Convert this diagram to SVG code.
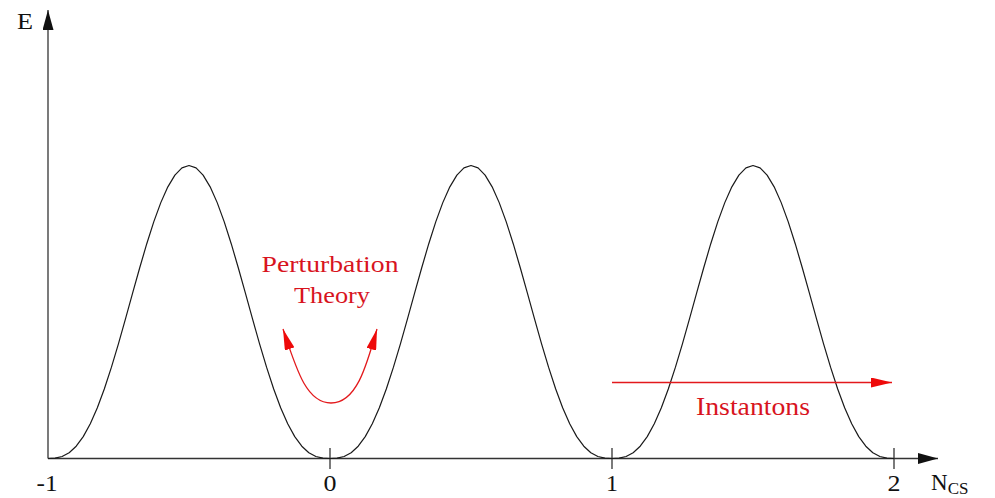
<svg xmlns="http://www.w3.org/2000/svg" xmlns:xlink="http://www.w3.org/1999/xlink" width="995" height="498" viewBox="0 0 995 498">
  <style>
    .axis { stroke: #333; stroke-width: 1.3; fill: none; }
    .curve { stroke: #1a1a1a; stroke-width: 1.2; fill: none; stroke-linejoin: round; }
    .red { stroke: #e3191c; stroke-width: 1.3; fill: none; }
    .lbl { font-family: 'Times New Roman', 'Liberation Serif', Tinos, 'Nimbus Roman', serif; fill: #111; }
    .rlbl { font-family: 'Times New Roman', 'Liberation Serif', Tinos, 'Nimbus Roman', serif; fill: #d8141e; }
  </style>
  <defs>
    <marker id="blackHead" markerUnits="userSpaceOnUse" viewBox="0 0 20 11" refX="20" refY="5.5" markerWidth="20" markerHeight="11" orient="auto">
      <path d="M0,0 L20,5.5 L0,11 z" fill="#111"/>
    </marker>
    <marker id="redHead" markerUnits="userSpaceOnUse" viewBox="0 0 21 10" refX="21" refY="5" markerWidth="21" markerHeight="10" orient="auto-start-reverse">
      <path d="M0,0 L21,5 L0,10 z" fill="#ee0a0a"/>
    </marker>
    <polyline id="period" class="curve" points="0,0 7.05,-0.3 14.1,-1.96 21.15,-5.77 28.2,-12.29 35.25,-21.91 42.3,-34.74 49.35,-50.79 56.4,-69.78 63.45,-91.35 70.5,-114.94 77.55,-139.85 84.6,-165.32 91.65,-190.52 98.7,-214.55 105.75,-236.62 112.8,-255.87 119.85,-271.65 126.9,-283.36 133.95,-290.57 141,-293 148.05,-290.57 155.1,-283.36 162.15,-271.65 169.2,-255.87 176.25,-236.62 183.3,-214.55 190.35,-190.52 197.4,-165.32 204.45,-139.85 211.5,-114.94 218.55,-91.35 225.6,-69.78 232.65,-50.79 239.7,-34.74 246.75,-21.91 253.8,-12.29 260.85,-5.77 267.9,-1.96 274.95,-0.3 282,0"/>
  </defs>

  <g id="axes">
    <line class="axis" x1="48" y1="458.5" x2="48" y2="10" marker-end="url(#blackHead)"/>
    <line class="axis" x1="48" y1="458.5" x2="938" y2="458.5" marker-end="url(#blackHead)"/>
    <line class="axis" x1="330" y1="448" x2="330" y2="469"/>
    <line class="axis" x1="612" y1="448" x2="612" y2="469"/>
    <line class="axis" x1="894" y1="448" x2="894" y2="469"/>
  </g>

  <g id="potential">
    <use xlink:href="#period" href="#period" transform="translate(48,458.5)"/>
    <use xlink:href="#period" href="#period" transform="translate(330,458.5)"/>
    <use xlink:href="#period" href="#period" transform="translate(612,458.5)"/>
  </g>

  <g id="connectors">
    <path id="perturbation-arrow" class="red" d="M283,329 C296,368 306,403 331,403 C356,403 366,368 377,329" marker-start="url(#redHead)" marker-end="url(#redHead)"/>
    <line id="instanton-arrow" class="red" x1="612" y1="382.5" x2="892" y2="382.5" marker-end="url(#redHead)"/>
  </g>

  <g id="axis-labels">
    <text class="lbl" x="25" y="29" font-size="24" text-anchor="middle" textLength="16" lengthAdjust="spacingAndGlyphs">E</text>
    <text class="lbl" x="47" y="491" font-size="24" text-anchor="middle" textLength="21" lengthAdjust="spacingAndGlyphs">-1</text>
    <text class="lbl" x="330" y="491" font-size="24" text-anchor="middle" textLength="13" lengthAdjust="spacingAndGlyphs">0</text>
    <text class="lbl" x="612" y="491" font-size="24" text-anchor="middle" textLength="12" lengthAdjust="spacingAndGlyphs">1</text>
    <text class="lbl" x="894" y="491" font-size="24" text-anchor="middle" textLength="13" lengthAdjust="spacingAndGlyphs">2</text>
    <text class="lbl" x="931" y="490" font-size="23">N<tspan font-size="17" dy="4">CS</tspan></text>
  </g>

  <g id="perturbation-label">
    <text class="rlbl" x="330" y="272" font-size="23" text-anchor="middle" textLength="137" lengthAdjust="spacingAndGlyphs">Perturbation</text>
    <text class="rlbl" x="332" y="302.5" font-size="23" text-anchor="middle" textLength="76" lengthAdjust="spacingAndGlyphs">Theory</text>
  </g>

  <g id="instanton-label">
    <text class="rlbl" x="753" y="415" font-size="25" text-anchor="middle" textLength="114" lengthAdjust="spacingAndGlyphs">Instantons</text>
  </g>
</svg>
